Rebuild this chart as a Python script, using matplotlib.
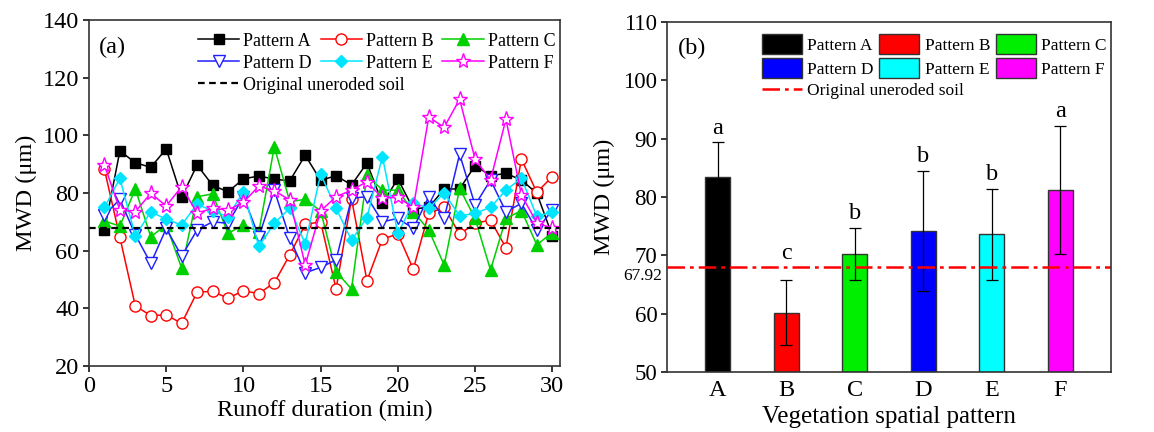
import matplotlib
matplotlib.use("Agg")
import matplotlib.pyplot as plt
from matplotlib.patches import Patch
import numpy as np

plt.rcParams['font.family'] = ['Liberation Serif', 'DejaVu Serif']

# ---------------- data: panel (a) ----------------
minutes = list(range(1, 31))
pattern_a = [67.2, 94.6, 90.5, 88.9, 95.3, 78.6, 89.7, 82.7, 80.4, 84.9,
             85.9, 84.8, 84.2, 93.1, 84.4, 86.0, 82.8, 90.4, 76.4, 84.9,
             74.5, 75.0, 81.4, 81.4, 89.5, 86.0, 86.8, 84.5, 79.9, 65.2]
pattern_b = [88.2, 64.6, 40.8, 37.5, 37.7, 34.8, 45.6, 45.9, 43.5, 46.1,
             45.1, 48.9, 58.5, 69.1, 70.0, 46.7, 78.0, 49.6, 64.0, 65.8,
             53.6, 73.0, 75.0, 65.7, 69.5, 70.6, 61.0, 91.8, 80.2, 85.7]
pattern_c = [70.3, 68.5, 81.4, 64.8, 69.0, 53.9, 78.7, 79.7, 66.0, 68.9,
             66.6, 96.0, 77.0, 77.8, 73.8, 52.7, 46.7, 86.2, 81.0, 81.0,
             73.5, 67.2, 55.0, 81.6, 71.2, 53.3, 71.2, 73.9, 62.0, 66.3]
pattern_d = [72.4, 77.8, 65.5, 55.6, 67.7, 58.1, 67.2, 70.0, 69.5, 78.7,
             64.9, 81.0, 64.4, 52.3, 54.2, 56.8, 78.2, 78.7, 70.0, 71.2,
             67.7, 78.7, 71.2, 93.5, 75.8, 84.5, 73.5, 76.4, 67.2, 74.1]
pattern_e = [75.0, 85.1, 65.1, 73.5, 70.9, 68.9, 76.2, 73.7, 71.8, 80.5,
             61.5, 69.5, 74.7, 62.4, 86.6, 74.7, 63.6, 71.5, 92.6, 66.0,
             76.6, 74.7, 80.0, 72.0, 73.0, 75.0, 81.0, 85.1, 72.0, 73.3]
pattern_f = [89.7, 74.1, 73.5, 79.9, 75.5, 82.2, 73.0, 74.7, 74.1, 76.8,
             82.4, 80.8, 77.6, 55.0, 73.8, 78.7, 81.0, 83.9, 78.2, 78.5,
             75.0, 106.3, 102.8, 112.5, 91.8, 84.5, 105.6, 79.3, 69.7, 67.7]
original_soil = 67.92

# ---------------- data: panel (b) ----------------
categories = ['A', 'B', 'C', 'D', 'E', 'F']
bar_means = [83.5, 60.2, 70.2, 74.2, 73.6, 81.2]
bar_errors = [5.9, 5.5, 4.5, 10.3, 7.8, 11.0]
sig_letters = ['a', 'c', 'b', 'b', 'b', 'a']
bar_colors = ['#000000', '#FF0000', '#00EE00', '#0000FF', '#00FFFF', '#FF00FF']
legend_names = ['Pattern A', 'Pattern B', 'Pattern C', 'Pattern D', 'Pattern E', 'Pattern F']

fig = plt.figure(figsize=(11.54, 4.32), dpi=100)
ax1 = fig.add_axes([89/1154, 1-366/432, (560-89)/1154, (366-20)/432])
ax2 = fig.add_axes([667/1154, 1-372/432, (1111-667)/1154, (372-22)/432])

# ---------- panel (a) ----------
styles = [
    (pattern_a, 'black', 's', 'black', 6.5),
    (pattern_b, '#FF0000', 'o', 'none', 8),
    (pattern_c, '#00D000', '^', '#00D000', 8),
    (pattern_d, '#2020FF', 'v', 'none', 9),
    (pattern_e, '#00E5FF', 'D', '#00E5FF', 6.5),
    (pattern_f, '#FF00FF', '*', 'none', 11),
]
handles = []
for (vals, col, mk, mfc, ms), name in zip(styles, legend_names):
    h, = ax1.plot(minutes, vals, color=col, marker=mk, mfc=mfc if mfc != 'none' else 'white',
                  mec=col, ms=ms, lw=1.1, label=name, mew=1.0)
    handles.append(h)
hline = ax1.axhline(original_soil, color='black', ls=(0, (3, 2)), lw=1.6)

ax1.set_xlim(0, 30.5)
ax1.set_ylim(20, 140)
ax1.set_xticks(range(0, 31, 5))
ax1.set_yticks(range(20, 141, 20))
ax1.tick_params(direction='out', length=4, width=1.1, labelsize=17.5, pad=3)
for s in ax1.spines.values():
    s.set_linewidth(1.2)
    s.set_color('#333333')
ax1.set_xlabel('Runoff duration (min)', fontsize=17.5, labelpad=2)
ax1.set_ylabel('MWD (μm)', fontsize=17.5, labelpad=4)
ax1.text(0.022, 0.95, '(a)', transform=ax1.transAxes, fontsize=17.5, va='top', ha='left')

order = [0, 3, 1, 4, 2, 5]
leg1 = ax1.legend([handles[i] for i in order], [legend_names[i] for i in order],
                  ncol=3, loc='upper left', bbox_to_anchor=(0.208, 0.995), frameon=False,
                  fontsize=13, handlelength=2.3, handletextpad=0.2, columnspacing=0.5,
                  labelspacing=0.28, borderaxespad=0.2)
ax1.add_artist(leg1)
ax1.legend([hline], ['Original uneroded soil'], loc='upper left', bbox_to_anchor=(0.208, 0.868),
           frameon=False, fontsize=13, handlelength=2.3, handletextpad=0.2, borderaxespad=0.2)

# ---------- panel (b) ----------
x = np.arange(len(categories))
ax2.bar(x, [m - 50 for m in bar_means], bottom=50, width=0.37, color=bar_colors,
        edgecolor='#333333', linewidth=1.0)
ax2.errorbar(x, bar_means, yerr=bar_errors, fmt='none', ecolor='black', elinewidth=0.9,
             capsize=4, capthick=0.9)
for xi, m, e, lt in zip(x, bar_means, bar_errors, sig_letters):
    ax2.text(xi, max(m + e, original_soil) + 0.6, lt, ha='center', va='bottom', fontsize=17.5)
oline = ax2.axhline(original_soil, color='#FF0000', ls=(0, (7, 2, 1.5, 2)), lw=1.8)

ax2.set_xlim(-0.74, 5.74)
ax2.set_ylim(50, 110)
ax2.set_xticks(x)
ax2.set_xticklabels(categories)
ax2.set_yticks(range(50, 111, 10))
ax2.tick_params(axis='y', direction='out', length=4, width=1.1, labelsize=16.5, pad=3)
ax2.tick_params(axis='x', direction='out', length=0, labelsize=17.5, pad=6)
for s in ax2.spines.values():
    s.set_linewidth(1.2)
    s.set_color('#333333')
ax2.text(-0.012, 66.5, '67.92', transform=ax2.get_yaxis_transform(), ha='right', va='center',
         fontsize=12.5)
ax2.set_xlabel('Vegetation spatial pattern', fontsize=18, labelpad=3)
ax2.set_ylabel('MWD (μm)', fontsize=17.5, labelpad=6)
ax2.text(0.025, 0.955, '(b)', transform=ax2.transAxes, fontsize=17.5, va='top', ha='left')

patches = [Patch(facecolor=c, edgecolor='#333333', linewidth=1.0) for c in bar_colors]
leg2 = ax2.legend([patches[i] for i in order], [legend_names[i] for i in order], ncol=3,
                  loc='upper left', bbox_to_anchor=(0.19, 0.995), frameon=False, fontsize=12.5,
                  handlelength=2.3, handleheight=1.35, handletextpad=0.3, columnspacing=0.35,
                  labelspacing=0.25, borderaxespad=0.2)
ax2.add_artist(leg2)
ax2.legend([oline], ['Original uneroded soil'], loc='upper left', bbox_to_anchor=(0.19, 0.855),
           frameon=False, fontsize=12.5, handlelength=2.3, handletextpad=0.3, borderaxespad=0.2)

fig.savefig('out.png', dpi=100)
